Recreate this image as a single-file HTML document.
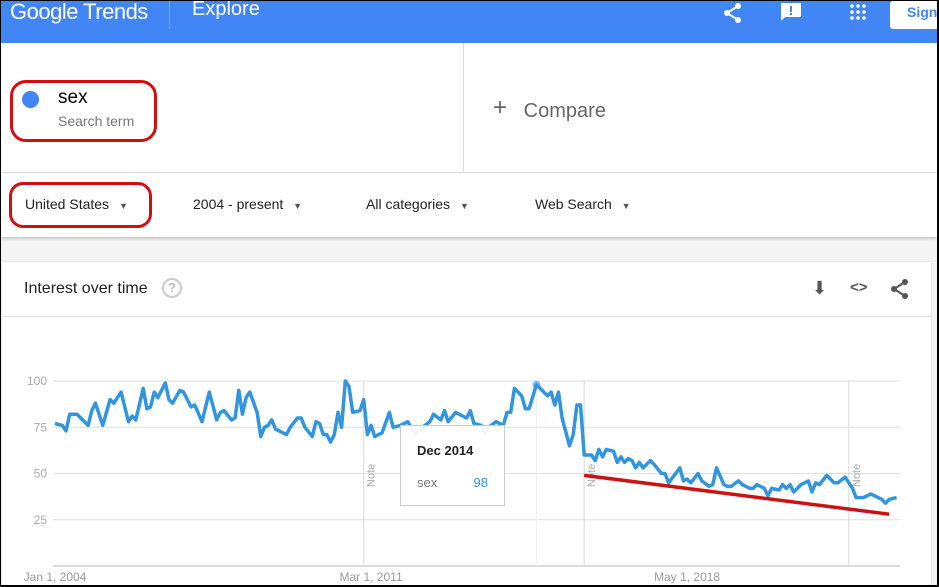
<!DOCTYPE html>
<html><head><meta charset="utf-8"><style>
*{margin:0;padding:0;box-sizing:border-box}
body{width:939px;height:587px;overflow:hidden;background:#000;font-family:"Liberation Sans",Arial,sans-serif;position:relative}
#page{position:absolute;left:1px;top:1px;width:936px;height:584px;background:#f4f4f4;overflow:hidden}
.abs{position:absolute}
</style></head><body>
<div id="page">
 <div class="abs" style="left:0;top:0;width:936px;height:42px;background:#4285f4;box-shadow:0 2px 3px rgba(0,0,0,.25)">
  <div class="abs" style="left:9px;top:-2px;color:#fff;font-size:22px;letter-spacing:-0.5px">Google Trends</div>
  <div class="abs" style="left:168px;top:0;width:1px;height:28px;background:rgba(255,255,255,.3)"></div>
  <div class="abs" style="left:191px;top:-3px;color:#fff;font-size:20px">Explore</div>
  <svg class="abs" style="left:721px;top:1px" width="22" height="22" viewBox="0 0 22 22"><circle cx="16" cy="4" r="3" fill="#fff"/><circle cx="5" cy="11" r="3" fill="#fff"/><circle cx="16" cy="18" r="3" fill="#fff"/><path d="M16 4L5 11L16 18" stroke="#fff" stroke-width="2" fill="none"/></svg>
  <svg class="abs" style="left:779px;top:1px" width="22" height="22" viewBox="0 0 22 22"><path d="M1 1H21V15H5L1 19Z" fill="#fff"/><rect x="10" y="4" width="2" height="6" fill="#4285f4"/><rect x="10" y="11" width="2" height="2" fill="#4285f4"/></svg>
  <svg class="abs" style="left:848px;top:3px" width="18" height="18" viewBox="0 0 18 18"><g fill="#fff"><circle cx="3" cy="2" r="1.8"/><circle cx="9" cy="2" r="1.8"/><circle cx="15" cy="2" r="1.8"/><circle cx="3" cy="8" r="1.8"/><circle cx="9" cy="8" r="1.8"/><circle cx="15" cy="8" r="1.8"/><circle cx="3" cy="14" r="1.8"/><circle cx="9" cy="14" r="1.8"/><circle cx="15" cy="14" r="1.8"/></g></svg>
  <div class="abs" style="left:889px;top:0;width:60px;height:28px;background:#fff;border-radius:3px;color:#4285f4;font-size:14px;padding:3px 0 0 17px;font-weight:bold;white-space:nowrap;overflow:hidden">Sign in</div>
 </div>
 <div class="abs" style="left:0;top:42px;width:936px;height:130px;background:#fff;border-bottom:1px solid #ddd">
  <div class="abs" style="left:0;top:0;width:463px;height:129px;border-right:1px solid #ddd">
   <div class="abs" style="left:21px;top:48px;width:17px;height:17px;border-radius:50%;background:#4285f4"></div>
   <div class="abs" style="left:57px;top:44px;font-size:19px;color:#000">sex</div>
   <div class="abs" style="left:57px;top:70px;font-size:14px;color:#777">Search term</div>
   <div class="abs" style="left:9px;top:37px;width:147px;height:62px;border:3px solid #d01010;border-radius:16px"></div>
  </div>
  <div class="abs" style="left:492px;top:53px;font-size:20px;color:#666"><span style="font-size:24px;font-weight:300;position:relative;top:-2px">+</span>&nbsp;&nbsp;&nbsp;Compare</div>
 </div>
 <div class="abs" style="left:0;top:172px;width:936px;height:64px;background:#fff;box-shadow:0 2px 3px rgba(0,0,0,.2);font-size:14px;color:#222">
  <div class="abs" style="left:24px;top:23px">United States <span style="font-size:9px;color:#555;margin-left:6px">▼</span></div>
  <div class="abs" style="left:8px;top:9px;width:143px;height:46px;border:3px solid #d01010;border-radius:14px"></div>
  <div class="abs" style="left:192px;top:23px">2004 - present <span style="font-size:9px;color:#555;margin-left:6px">▼</span></div>
  <div class="abs" style="left:365px;top:23px">All categories <span style="font-size:9px;color:#555;margin-left:6px">▼</span></div>
  <div class="abs" style="left:534px;top:23px">Web Search <span style="font-size:9px;color:#555;margin-left:6px">▼</span></div>
 </div>
 <div class="abs" style="left:1px;top:261px;width:929px;height:330px;background:#fff;box-shadow:0 0 2px rgba(0,0,0,.15)">
  <div class="abs" style="left:22px;top:18px;font-size:16px;color:#222">Interest over time</div>
  <div class="abs" style="left:160px;top:16px;width:20px;height:20px;border:2px solid #ccc;border-radius:50%;color:#bbb;font-size:13px;text-align:center;line-height:16px;font-weight:bold">?</div>
  <div class="abs" style="left:810px;top:16px;font-size:18px;color:#555">⬇</div>
  <div class="abs" style="left:848px;top:17px;font-size:15px;color:#555;font-weight:bold">&lt;&gt;</div>
  <svg class="abs" style="left:888px;top:16px" width="20" height="22" viewBox="0 0 20 22"><circle cx="15" cy="4" r="3" fill="#555"/><circle cx="4" cy="11" r="3" fill="#555"/><circle cx="15" cy="18" r="3" fill="#555"/><path d="M15 4L4 11L15 18" stroke="#555" stroke-width="2" fill="none"/></svg>
  <div class="abs" style="left:0;top:54px;width:929px;height:1px;background:#e4e4e4"></div>
 </div>
 <svg id="chart" class="abs" style="left:-1px;top:-1px" width="939" height="587"></svg>
</div>
<script>
const months=[0,2,3,4,6,7,9,10,11,13,15,16,18,20,21,22,24,25,26,27,28,30,31,32,34,35,37,38,40,42,44,45,46,48,49,50,51,52,53,55,56,57,58,59,60,62,63,64,66,67,68,70,71,72,73,74,75,76,77,78,79,80,81,83,84,85,86,87,89,91,92,94,96,98,100,102,103,105,106,107,109,110,112,113,114,116,117,118,120,122,123,124,125,127,128,129,131,133,134,135,136,137,138,140,141,142,143,144,146,147,148,149,150,152,153,154,155,156,157,158,159,160,162,163,165,166,167,170,171,172,173,175,176,178,179,180,182,183,184,186,187,189,190,191,193,194,195,197,198,199,200,201,203,204,205,206,207,208,210,212,213,215,217,218,220,222,224,225,226,227,229];
const values=[77,76,73,82,82,80,76,84,88,76,90,88,94,78,81,79,96,85,86,94,91,99,90,88,95,94,86,87,78,94,79,83,84,79,80,95,82,91,94,83,70,75,76,79,74,72,71,75,80,80,75,70,78,77,71,71,67,71,83,75,100,97,83,84,90,71,76,70,72,83,75,76,78,71,75,78,82,79,84,78,83,82,80,84,77,76,72,75,78,76,83,83,96,92,85,85,98,94,92,94,87,94,80,65,71,87,87,60,60,57,63,59,63,62,56,59,56,58,57,53,56,53,57,55,50,50,45,53,46,47,45,50,46,43,44,53,44,43,43,46,44,42,42,44,42,38,42,41,44,42,44,40,44,45,46,40,45,44,49,45,45,48,42,37,37,39,37,36,34,36,37];
const yTicks=[25,50,75,100];
const xLabels=["Jan 1, 2004","Mar 1, 2011","May 1, 2018"];
const xLabelMonths=[0,86,172];
const noteMonths=[84,144,216];
const trendMonths=[144,227];
const trendValues=[49,28];
const hoverMonth=131, hoverValue=98, hoverLabel="Dec 2014";

const X0=55,PXM=3.675,Y0=566,PXV=1.85;
const sx=m=>X0+m*PXM, sy=v=>Y0-v*PXV;
const svg=document.getElementById('chart'),NS='http://www.w3.org/2000/svg';
function mk(t,a,p){const e=document.createElementNS(NS,t);for(const k in a)e.setAttribute(k,a[k]);(p||svg).appendChild(e);return e;}
yTicks.forEach(v=>{
 const l=mk('line',{x1:53,x2:900,y1:sy(v),y2:sy(v),stroke:'#e0e0e0'});
 
 
 const t=mk('text',{x:47,y:sy(v)+4,'text-anchor':'end','font-size':12,fill:'#aaa','font-family':'Liberation Sans'});
 t.textContent=v;
 
 
});
const ax=mk('line',{x1:53,x2:900,y1:Y0,y2:Y0,stroke:'#bbb'});


xLabels.forEach((s,i)=>{
 const t=mk('text',{x:sx(xLabelMonths[i]),y:581,'text-anchor':'middle','font-size':12,fill:'#999','font-family':'Liberation Sans'});
 t.textContent=s;
 
 
});
noteMonths.forEach(m=>{
 const x=sx(m);
 const l=mk('line',{x1:x,x2:x,y1:sy(100),y2:Y0,stroke:'#d8d8d8'});
 
 
 const t=mk('text',{x:x+11,y:487,'font-size':11,fill:'#aaa','font-family':'Liberation Sans',transform:`rotate(-90 ${x+11} 487)`});
 t.textContent='Note';
 
 
});
const hl=mk('line',{x1:sx(hoverMonth),x2:sx(hoverMonth),y1:sy(100),y2:Y0,stroke:'#f0f0f0'});


const pts=months.map((m,i)=>sx(m).toFixed(1)+','+sy(values[i]).toFixed(1)).join(' ');
const pl=mk('polyline',{points:pts,fill:'none',stroke:'#3395dd','stroke-width':3.5,'stroke-linejoin':'round'});


const hp=mk('circle',{cx:sx(hoverMonth),cy:sy(hoverValue),r:4,fill:'#3395dd',opacity:.6});


const tr=mk('line',{x1:sx(trendMonths[0]),y1:sy(trendValues[0]),x2:sx(trendMonths[1]),y2:sy(trendValues[1]),stroke:'#cc1111','stroke-width':3.5});


const g=mk('g',{});


mk('rect',{x:400.5,y:425.5,width:104,height:80,fill:'rgba(255,255,255,.92)',stroke:'#ccc'},g);
const t1=mk('text',{x:417,y:455,'font-size':13,'font-weight':'bold',fill:'#222','font-family':'Liberation Sans'},g);t1.textContent=hoverLabel;
const t2=mk('text',{x:417,y:487,'font-size':13,fill:'#777','font-family':'Liberation Sans'},g);t2.textContent='sex';
const t3=mk('text',{x:488,y:487,'font-size':13,'text-anchor':'end',fill:'#3395dd','font-family':'Liberation Sans'},g);t3.textContent=hoverValue;
</script>
</body></html>
